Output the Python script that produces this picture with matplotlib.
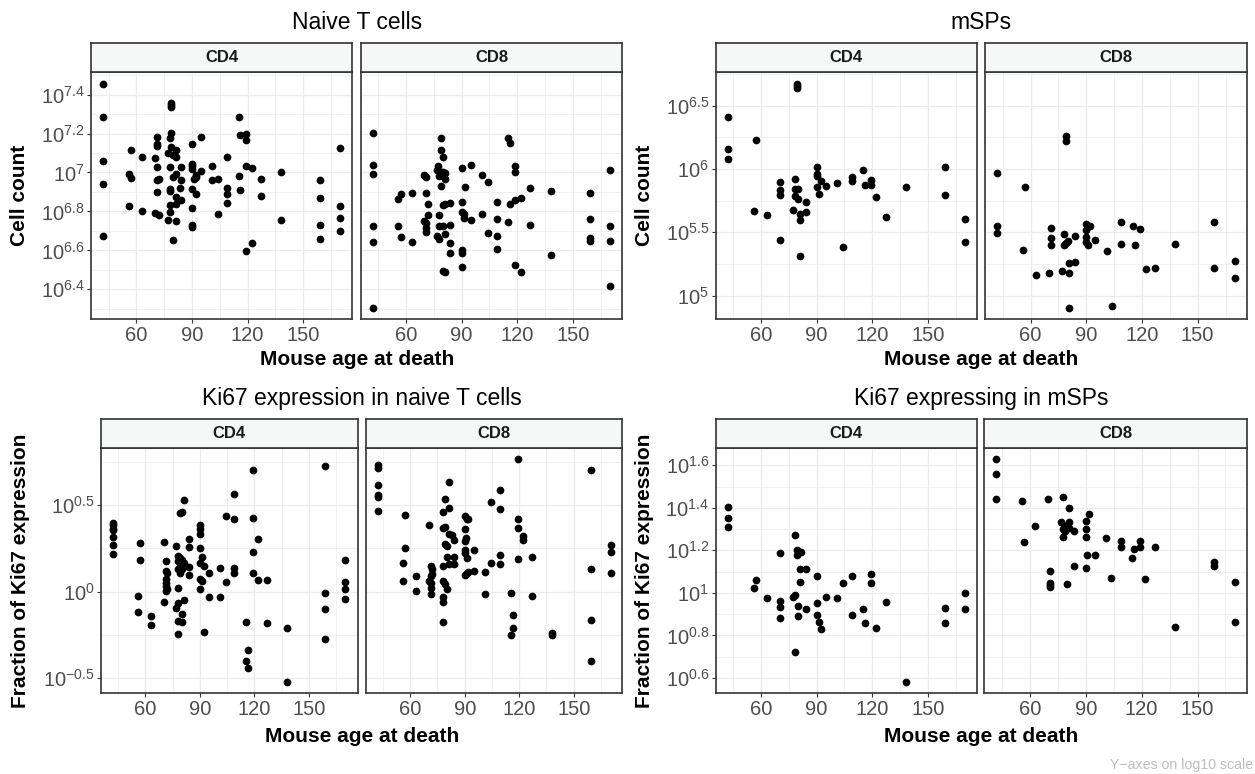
import numpy as np
import matplotlib
matplotlib.use("Agg")
import matplotlib.pyplot as plt
from matplotlib.ticker import FixedLocator, FuncFormatter, NullFormatter

plt.rcParams['font.family'] = ['Liberation Sans', 'DejaVu Sans']
plt.rcParams['mathtext.fontset'] = 'custom'
plt.rcParams['mathtext.rm'] = 'Liberation Sans'
plt.rcParams['mathtext.it'] = 'Liberation Sans:italic'
plt.rcParams['mathtext.bf'] = 'Liberation Sans:bold'

# ---------------- data (age in days, log10 of value) ----------------
naive_cd4_age = [42, 42, 42, 42, 42, 56.9, 56.0, 56.9, 56.0, 63.1, 63.1,
                 71.0, 71.0, 71.0, 70.1, 71.0, 71.9, 71.0, 71.0, 70.1, 71.9,
                 78.9, 78.9, 78.9, 78.9, 78.0, 78.9, 81.1, 77.1, 80.0, 81.1, 78.0, 81.1, 80.0,
                 78.0, 78.0, 81.1, 81.1, 78.0, 78.0, 77.1, 81.1, 80.0,
                 84.3, 84.3, 83.4, 84.3,
                 90.1, 90.1, 90.1, 90.1, 92.0, 92.0, 91.1, 90.1, 92.0, 90.1, 90.1, 90.1,
                 95.1, 95.1, 101.0, 101.0, 104.1, 104.1, 109.1, 109.1, 109.1, 109.1,
                 115.3, 115.3, 116.2, 116.2, 119.2, 119.2, 119.2, 119.2, 122.3, 122.3,
                 127.1, 127.1, 138.1, 138.1, 159.2, 159.2, 159.2, 159.2,
                 170.2, 170.2, 170.2, 170.2]
naive_cd4_log10 = [7.457, 7.285, 7.060, 6.942, 6.676, 7.113, 6.993, 6.971, 6.830, 7.079, 6.804,
                   7.182, 7.148, 7.136, 7.072, 7.026, 6.966, 6.959, 6.902, 6.794, 6.784,
                   7.359, 7.348, 7.338, 7.204, 7.177, 7.129, 7.117, 7.100, 7.088, 7.082, 7.026, 6.993, 6.976,
                   6.914, 6.906, 6.876, 6.839, 6.832, 6.797, 6.754, 6.753, 6.655,
                   7.026, 6.959, 6.921, 6.858,
                   7.146, 7.043, 7.031, 7.019, 6.988, 6.978, 6.966, 6.916, 6.887, 6.815, 6.729, 6.718,
                   7.180, 7.009, 7.034, 6.961, 6.967, 6.789, 7.079, 6.919, 6.888, 6.845,
                   7.285, 6.981, 7.194, 6.911, 7.196, 7.167, 7.034, 6.597, 7.021, 6.639,
                   6.969, 6.880, 7.000, 6.756, 6.959, 6.868, 6.729, 6.658,
                   7.124, 6.828, 6.768, 6.698]

naive_cd8_age = [42, 42, 42, 42, 42, 42, 57.1, 55.9, 55.9, 57.1, 63.0, 63.0,
                 69.5, 70.8, 70.8, 72.1, 72.1, 69.5, 70.8, 70.8, 70.8,
                 78.9, 78.9, 80.0, 77.5, 76.7, 78.9, 80.0, 77.8, 81.1, 81.1, 78.9, 80.0, 81.1,
                 77.8, 77.8, 80.0, 81.1, 76.7, 77.8, 80.0, 81.1,
                 83.8, 83.8, 83.8, 83.8,
                 90.0, 90.0, 90.0, 91.1, 91.1, 90.0, 90.0, 90.0, 92.0,
                 95.1, 95.1, 101.0, 101.0, 104.1, 104.1, 109.1, 109.1, 109.1, 109.1,
                 115.0, 115.0, 116.1, 116.1, 119.0, 119.0, 119.0, 119.0, 122.0, 122.0,
                 127.1, 127.1, 138.1, 138.1, 159.0, 159.0, 159.0, 159.0,
                 170.2, 170.2, 170.2, 170.2]
naive_cd8_log10 = [7.201, 7.039, 6.993, 6.727, 6.645, 6.305, 6.888, 6.863, 6.727, 6.669, 6.897, 6.645,
                   6.988, 6.979, 6.897, 6.839, 6.784, 6.753, 6.739, 6.713, 6.696,
                   7.177, 7.113, 7.077, 7.034, 7.014, 7.005, 7.002, 6.981, 6.997, 6.967, 6.933, 6.833, 6.837,
                   6.782, 6.727, 6.727, 6.684, 6.676, 6.658, 6.495, 6.487,
                   6.844, 6.730, 6.639, 6.586,
                   7.022, 6.847, 6.799, 6.789, 6.768, 6.602, 6.585, 6.516, 6.924,
                   7.036, 6.758, 6.986, 6.789, 6.950, 6.688, 6.847, 6.763, 6.674, 6.609,
                   7.177, 6.748, 7.151, 6.837, 7.031, 7.000, 6.858, 6.524, 6.868, 6.488,
                   6.919, 6.730, 6.907, 6.578, 6.895, 6.760, 6.662, 6.650,
                   7.014, 6.724, 6.646, 6.416]

msp_cd4_age = [42.2, 42.2, 42.2, 56.2, 57.3, 63.2, 70.1, 70.1, 70.1, 70.1, 77.2,
               79.2, 79.2, 79.2, 78.1, 78.1, 80.1, 78.1, 80.1, 81.0, 81.0, 81.0, 84.2, 84.2,
               90.0, 90.0, 90.0, 90.0, 91.3, 92.2, 95.2, 101.1, 104.2, 109.2, 109.2,
               115.1, 116.2, 119.3, 119.3, 122.2, 127.2, 138.1, 159.2, 159.2, 170.0, 170.0]
msp_cd4_log10 = [6.411, 6.155, 6.076, 5.668, 6.226, 5.637, 5.900, 5.834, 5.795, 5.442, 5.679,
                 6.674, 6.658, 6.642, 5.921, 5.842, 5.842, 5.787, 5.761, 5.647, 5.595, 5.313, 5.742, 5.663,
                 6.018, 5.961, 5.945, 5.853, 5.803, 5.905, 5.863, 5.892, 5.384, 5.932, 5.905,
                 5.992, 5.874, 5.913, 5.874, 5.776, 5.618, 5.855, 6.018, 5.795, 5.608, 5.424]

msp_cd8_age = [41.9, 41.9, 41.9, 55.9, 56.9, 62.9, 69.9, 71.0, 71.0, 71.0, 76.9,
               79.0, 79.0, 78.0, 78.0, 79.0, 80.0, 80.8, 80.8, 80.8, 83.9, 83.9,
               90.0, 90.0, 90.0, 90.0, 90.9, 90.9, 91.8, 94.8, 101.0, 103.8, 108.9, 108.9,
               115.0, 116.0, 118.9, 122.0, 127.0, 138.0, 158.8, 158.8, 170.0, 170.0]
msp_cd8_log10 = [5.968, 5.547, 5.497, 5.358, 5.853, 5.158, 5.176, 5.532, 5.458, 5.397, 5.192,
                 6.263, 6.218, 5.482, 5.397, 5.411, 5.432, 5.255, 5.176, 4.903, 5.468, 5.266,
                 5.568, 5.521, 5.463, 5.426, 5.397, 5.550, 5.550, 5.439, 5.355, 4.921, 5.584, 5.405,
                 5.545, 5.395, 5.529, 5.208, 5.218, 5.405, 5.579, 5.216, 5.271, 5.137]

ki_naive_cd4_age = [42.1, 42.1, 42.1, 42.1, 42.1, 42.1, 42.1, 57.1, 57.1, 56.0, 56.0, 62.9, 62.9,
                    70.1, 71.2, 71.2, 71.9, 71.2, 71.2, 71.2, 71.9, 71.2, 70.1,
                    81.2, 80.1, 79.2, 77.0, 78.1, 79.2, 80.1, 78.1, 81.2, 79.2, 78.1, 80.1, 79.2,
                    78.1, 81.2, 78.1, 77.0, 80.1, 78.1, 80.1, 78.1,
                    84.1, 84.1, 84.1, 84.1,
                    90.0, 90.0, 90.0, 90.0, 91.1, 90.0, 92.0, 90.0, 91.1, 90.0, 92.0,
                    95.1, 95.1, 101.1, 101.1, 104.1, 104.1, 109.0, 109.0, 109.0, 109.0,
                    115.1, 116.4, 115.1, 116.4, 119.0, 119.0, 119.0, 119.0, 122.2, 122.2,
                    127.1, 127.1, 138.1, 138.1, 159.0, 159.0, 159.0, 159.0,
                    169.9, 169.9, 169.9, 169.9]
ki_naive_cd4_log10 = [0.400, 0.383, 0.365, 0.354, 0.317, 0.271, 0.215, 0.281, 0.183, -0.027, -0.121, -0.144, -0.196,
                      0.290, 0.175, 0.119, 0.110, 0.071, 0.048, 0.033, 0.017, 0.002, -0.062,
                      0.529, 0.462, 0.456, 0.265, 0.206, 0.196, 0.183, 0.177, 0.167, 0.142, 0.129, 0.129, 0.110,
                      0.019, -0.048, -0.067, -0.096, -0.131, -0.173, -0.175, -0.244,
                      0.306, 0.260, 0.142, 0.094,
                      0.385, 0.363, 0.335, 0.250, 0.198, 0.167, 0.148, 0.071, 0.062, 0.013, -0.237,
                      0.106, -0.029, 0.135, -0.033, 0.435, 0.056, 0.565, 0.423, 0.138, 0.106,
                      -0.175, -0.338, -0.400, -0.444, 0.704, 0.425, 0.229, 0.110, 0.306, 0.067,
                      0.069, -0.181, -0.210, -0.525, 0.725, -0.010, -0.104, -0.277,
                      0.185, 0.054, 0.013, -0.042]

ki_naive_cd8_age = [42.1, 42.1, 42.1, 42.1, 42.1, 42.1, 57.3, 57.3, 56.2, 56.2, 63.1, 63.1,
                    70.1, 71.2, 71.9, 71.9, 71.2, 70.1, 71.2, 71.2, 71.2,
                    81.2, 79.2, 81.2, 78.1, 78.1, 79.2, 81.2, 83.2, 79.2, 80.1, 80.1, 81.2, 78.1,
                    78.1, 79.2, 80.1, 78.1, 78.1, 78.1, 84.3, 84.3, 84.3,
                    90.0, 91.1, 92.0, 90.0, 90.9, 90.0, 90.0, 90.0, 91.1, 95.3, 90.0, 91.1, 92.0, 95.3,
                    101.3, 101.3, 104.3, 104.3, 109.2, 109.2, 109.2, 109.2,
                    115.3, 116.4, 116.4, 115.3, 119.3, 119.3, 119.3, 119.3, 122.2, 122.2,
                    127.3, 127.3, 138.1, 138.1, 159.3, 159.3, 159.3, 159.3,
                    170.3, 170.3, 170.3]
ki_naive_cd8_log10 = [0.731, 0.715, 0.615, 0.562, 0.548, 0.469, 0.446, 0.250, 0.167, 0.062, 0.090, 0.002,
                      0.385, 0.148, 0.129, 0.102, 0.090, 0.062, 0.052, 0.023, -0.012,
                      0.633, 0.537, 0.485, 0.462, 0.369, 0.373, 0.331, 0.325, 0.273, 0.263, 0.202, 0.158, 0.148,
                      0.062, 0.042, 0.013, -0.029, -0.058, -0.175, 0.298, 0.202, 0.162,
                      0.440, 0.421, 0.421, 0.365, 0.312, 0.292, 0.238, 0.221, 0.196, 0.240, 0.096, 0.106, 0.113, 0.119,
                      0.115, -0.015, 0.517, 0.167, 0.590, 0.481, 0.213, 0.162,
                      -0.006, -0.138, -0.210, -0.254, 0.769, 0.423, 0.367, 0.188, 0.321, 0.296,
                      0.200, -0.023, -0.242, -0.252, 0.704, 0.129, -0.163, -0.400,
                      0.267, 0.229, 0.110]

ki_msp_cd4_age = [42.2, 42.2, 42.2, 56.2, 57.3, 63.2, 70.1, 70.1, 70.1, 70.1, 77.2,
                  78.1, 79.2, 80.1, 81.3, 79.2, 81.0, 84.2, 81.0, 78.1, 80.1, 80.1, 84.2, 78.1,
                  90.0, 90.0, 90.0, 91.1, 92.2, 95.2, 101.1, 104.2, 109.2, 109.2,
                  115.1, 116.2, 119.3, 119.3, 122.2, 127.2, 138.1, 159.2, 159.2, 170.0, 170.0]
ki_msp_cd4_log10 = [1.403, 1.352, 1.309, 1.025, 1.061, 0.977, 1.186, 0.961, 0.933, 0.883, 0.980,
                    1.273, 1.202, 1.194, 1.192, 1.177, 1.111, 1.111, 1.052, 0.991, 0.939, 0.889, 0.922, 0.720,
                    1.081, 0.953, 0.898, 0.863, 0.830, 0.980, 0.978, 1.047, 1.077, 0.894,
                    0.923, 0.856, 1.088, 1.044, 0.836, 0.958, 0.580, 0.930, 0.856, 1.000, 0.925]

ki_msp_cd8_age = [41.9, 41.9, 41.9, 55.9, 56.9, 62.9, 69.9, 71.0, 71.0, 71.0, 71.0,
                  78.0, 81.0, 76.9, 81.0, 79.0, 78.0, 79.0, 81.0, 78.0, 83.9, 80.1, 83.9,
                  91.8, 90.0, 90.0, 90.0, 90.9, 94.8, 90.0, 101.0, 103.8, 108.9, 108.9,
                  115.0, 116.0, 118.9, 118.9, 122.0, 127.0, 138.0, 158.8, 158.8, 170.0, 170.0]
ki_msp_cd8_log10 = [1.630, 1.559, 1.441, 1.433, 1.241, 1.313, 1.441, 1.102, 1.044, 1.036, 1.028,
                    1.452, 1.397, 1.331, 1.331, 1.314, 1.298, 1.291, 1.305, 1.263, 1.291, 1.042, 1.128,
                    1.370, 1.338, 1.298, 1.264, 1.178, 1.178, 1.117, 1.258, 1.070, 1.244, 1.216,
                    1.162, 1.208, 1.244, 1.217, 1.063, 1.216, 0.839, 1.145, 1.127, 1.050, 0.863]

facet_labels = ["CD4", "CD8"]
x_breaks = [60, 90, 120, 150]
x_minor = [45, 75, 105, 135, 165]

plots = [
    dict(title="Naive T cells", ylabel="Cell count",
         data=[(naive_cd4_age, naive_cd4_log10), (naive_cd8_age, naive_cd8_log10)],
         major=[6.4, 6.6, 6.8, 7.0, 7.2, 7.4], minor=[6.3, 6.5, 6.7, 6.9, 7.1, 7.3, 7.5],
         panels=[(91.3, 352.3), (360.7, 622.3)], ytop=72.3, ybot=319, strip_top=43.3,
         title_y=29, xlab_y=365, ylab_x=20),
    dict(title="mSPs", ylabel="Cell count",
         data=[(msp_cd4_age, msp_cd4_log10), (msp_cd8_age, msp_cd8_log10)],
         major=[5.0, 5.5, 6.0, 6.5], minor=[5.25, 5.75, 6.25, 6.75],
         panels=[(715.7, 976.7), (985.0, 1246.7)], ytop=72.3, ybot=319, strip_top=43.3,
         title_y=29, xlab_y=365, ylab_x=644),
    dict(title="Ki67 expression in naive T cells", ylabel="Fraction of Ki67 expression",
         data=[(ki_naive_cd4_age, ki_naive_cd4_log10), (ki_naive_cd8_age, ki_naive_cd8_log10)],
         major=[-0.5, 0.0, 0.5], minor=[-0.25, 0.25, 0.75],
         panels=[(101.0, 357.7), (366.0, 622.3)], ytop=447.7, ybot=693.3, strip_top=418.7,
         title_y=405, xlab_y=741.7, ylab_x=21),
    dict(title="Ki67 expressing in mSPs", ylabel="Fraction of Ki67 expression",
         data=[(ki_msp_cd4_age, ki_msp_cd4_log10), (ki_msp_cd8_age, ki_msp_cd8_log10)],
         major=[0.6, 0.8, 1.0, 1.2, 1.4, 1.6], minor=[0.7, 0.9, 1.1, 1.3, 1.5],
         panels=[(715.7, 976.7), (984.3, 1246.7)], ytop=447.7, ybot=693.3, strip_top=418.7,
         title_y=405, xlab_y=741.7, ylab_x=644),
]

W, H = 1255, 774
fig = plt.figure(figsize=(W / 100, H / 100), dpi=100)
fig.patch.set_facecolor("white")

BORDER = "#333333"
GRID = "#EBEBEB"


def fx(px):
    return px / W


def fy(py):
    return 1 - py / H


def exp_label(v, pos):
    e = round(np.log10(v), 3)
    s = f"{e:g}"
    if s == "-0":
        s = "0"
    return r"$\mathregular{10^{%s}}$" % s


for p in plots:
    allx = np.concatenate([np.asarray(d[0], float) for d in p["data"]])
    ally = np.concatenate([np.asarray(d[1], float) for d in p["data"]])
    xr = allx.max() - allx.min()
    yr = ally.max() - ally.min()
    xlim = (allx.min() - 0.05 * xr, allx.max() + 0.05 * xr)
    ylim = (ally.min() - 0.05 * yr, ally.max() + 0.05 * yr)

    for i, ((ages, vals), (x0, x1)) in enumerate(zip(p["data"], p["panels"])):
        ax = fig.add_axes([fx(x0), fy(p["ybot"]), fx(x1 - x0), (p["ybot"] - p["ytop"]) / H])
        ax.set_yscale("log")
        ax.scatter(ages, 10 ** np.asarray(vals, float), s=31, c="black", linewidths=0, zorder=3)
        ax.set_xlim(*xlim)
        ax.set_ylim(10 ** ylim[0], 10 ** ylim[1])
        ax.xaxis.set_major_locator(FixedLocator(x_breaks))
        ax.xaxis.set_minor_locator(FixedLocator(x_minor))
        ax.yaxis.set_major_locator(FixedLocator([10 ** m for m in p["major"]]))
        ax.yaxis.set_minor_locator(FixedLocator([10 ** m for m in p["minor"]]))
        ax.yaxis.set_major_formatter(FuncFormatter(exp_label))
        ax.yaxis.set_minor_formatter(NullFormatter())
        ax.xaxis.set_minor_formatter(NullFormatter())
        ax.grid(which="major", color=GRID, linewidth=0.9)
        ax.grid(which="minor", color=GRID, linewidth=0.5)
        ax.set_axisbelow(True)
        for sp in ax.spines.values():
            sp.set_color(BORDER)
            sp.set_linewidth(1.2)
        ax.tick_params(which="major", length=3.2, width=0.8, color=BORDER,
                       labelsize=14.5, labelcolor="#4D4D4D", pad=1.5)
        ax.tick_params(which="minor", length=0)
        if i == 1:
            ax.tick_params(axis="y", which="both", left=False, labelleft=False)
        # strip
        sax = fig.add_axes([fx(x0), fy(p["ytop"]), fx(x1 - x0), (p["ytop"] - p["strip_top"]) / H])
        sax.set_facecolor("#F6F8F8")
        sax.set_xticks([])
        sax.set_yticks([])
        for sp in sax.spines.values():
            sp.set_color(BORDER)
            sp.set_linewidth(1.2)
        sax.text(0.5, 0.5, facet_labels[i], ha="center", va="center", fontsize=12,
                 fontweight="bold", color="#1A1A1A", transform=sax.transAxes)

    cx = (p["panels"][0][0] + p["panels"][1][1]) / 2
    fig.text(fx(cx), fy(p["title_y"]), p["title"], ha="center", va="baseline",
             fontsize=16.5, color="black")
    fig.text(fx(cx), fy(p["xlab_y"]), "Mouse age at death", ha="center", va="baseline",
             fontsize=15, fontweight="bold", color="black")
    fig.text(fx(p["ylab_x"]), fy((p["ytop"] + p["ybot"]) / 2), p["ylabel"], ha="center",
             va="center", rotation=90, fontsize=15, fontweight="bold", color="black")

fig.text(fx(1252.7), fy(769.5), "Y\u2212axes on log10 scale", ha="right", va="baseline",
         fontsize=10.2, color="#BDBDBD")

fig.savefig("out.png", dpi=100, facecolor="white")
